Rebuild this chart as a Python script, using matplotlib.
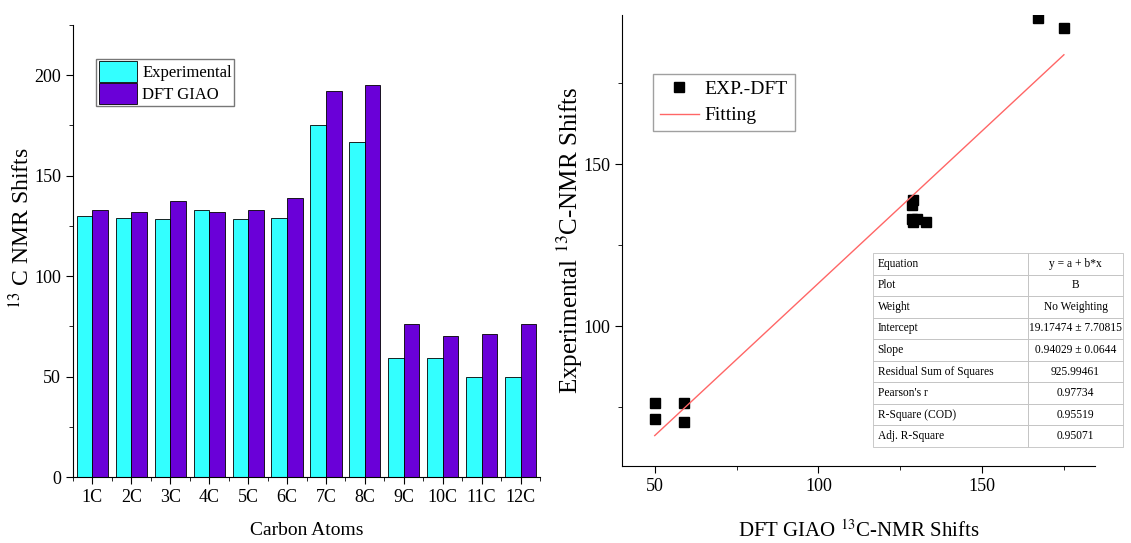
import matplotlib
matplotlib.use("Agg")
import matplotlib.pyplot as plt
from matplotlib.ticker import MultipleLocator
import numpy as np

plt.rcParams['font.family'] = ['Liberation Serif', 'DejaVu Serif']
plt.rcParams['mathtext.fontset'] = 'stix'

atoms = ['1C', '2C', '3C', '4C', '5C', '6C', '7C', '8C', '9C', '10C', '11C', '12C']
exp_shift = [130, 129, 128.5, 133, 128.5, 129, 175, 167, 59, 59, 50, 50]
dft_shift = [133, 132, 137.5, 132, 133, 139, 192, 195, 76, 70, 71, 76]

# scatter pairs as plotted on the right panel
sc_x = [130, 129, 128.5, 133, 128.5, 129, 175, 167, 59, 59, 50, 50]
sc_y = [133, 132, 137.5, 132, 133, 139, 192, 195, 76.2, 70.4, 71.3, 76.2]

# fit parameters (from the fit report table)
intercept = 19.17474
slope = 0.94029
fit_x = [50, 175]

table_rows = [
    ['Equation', 'y = a + b*x'],
    ['Plot', 'B'],
    ['Weight', 'No Weighting'],
    ['Intercept', '19.17474 \u00b1 7.70815'],
    ['Slope', '0.94029 \u00b1 0.0644'],
    ['Residual Sum of Squares', '925.99461'],
    ["Pearson's r", '0.97734'],
    ['R-Square (COD)', '0.95519'],
    ['Adj. R-Square', '0.95071'],
]

fig = plt.figure(figsize=(11.31, 5.43), dpi=100)
W, H = 1131, 543

# ---- left: bar chart
ax1 = fig.add_axes([73 / W, 1 - 477 / H, (540 - 73) / W, (477 - 25) / H])
pos = np.arange(1, len(atoms) + 1)
bw = 0.4
ax1.bar(pos - bw / 2, exp_shift, bw, color='#33ffff', edgecolor='black', linewidth=0.6, label='Experimental')
ax1.bar(pos + bw / 2, dft_shift, bw, color='#6a00d8', edgecolor='black', linewidth=0.6, label='DFT GIAO')
ax1.set_xlim(0.5, 12.5)
ax1.set_ylim(0, 225)
ax1.set_xticks(pos)
ax1.set_xticklabels(atoms)
ax1.xaxis.set_minor_locator(MultipleLocator(1, offset=0.5))
ax1.set_yticks([0, 50, 100, 150, 200])
ax1.yaxis.set_minor_locator(MultipleLocator(25))
for s in ['top', 'right']:
    ax1.spines[s].set_visible(False)
ax1.tick_params(which='both', direction='out', labelsize=13)
ax1.tick_params(which='major', length=5)
ax1.tick_params(which='minor', length=3)
ax1.set_xlabel('Carbon Atoms', fontsize=14)
ax1.xaxis.set_label_coords(0.5, -0.1)
ax1.set_ylabel('$^{13}$ C NMR Shifts', fontsize=17)
ax1.yaxis.set_label_coords(-0.083, 0.55)
ax1.legend(loc='upper left', bbox_to_anchor=(0.05, 0.925), fontsize=12, frameon=True,
           fancybox=False, edgecolor='#555555', handlelength=2.3, handleheight=1.5,
           borderpad=0.15, labelspacing=0.1, handletextpad=0.3, borderaxespad=0)

# ---- right: scatter + fit
ax2 = fig.add_axes([622 / W, 1 - 466 / H, (1095 - 622) / W, (466 - 15) / H])
ax2.plot(sc_x, sc_y, 's', color='black', markersize=6.5, label='EXP.-DFT')
fit_y = [intercept + slope * v for v in fit_x]
ax2.plot(fit_x, fit_y, color='#ff6666', linewidth=1, label='Fitting')
ax2.set_xlim(40, 184.5)
ax2.set_ylim(56.8, 196)
ax2.set_xticks([50, 100, 150])
ax2.set_yticks([100, 150])
ax2.xaxis.set_minor_locator(MultipleLocator(25))
ax2.yaxis.set_minor_locator(MultipleLocator(25))
for s in ['top', 'right']:
    ax2.spines[s].set_visible(False)
ax2.tick_params(which='both', direction='out', labelsize=13)
ax2.tick_params(which='major', length=5)
ax2.tick_params(which='minor', length=3)
ax2.set_xlabel('DFT GIAO $^{13}$C-NMR Shifts', fontsize=15, labelpad=18)
ax2.set_ylabel('Experimental $^{13}$C-NMR Shifts', fontsize=18)
ax2.yaxis.set_label_coords(-0.078, 0.5)
ax2.legend(loc='upper left', bbox_to_anchor=(0.066, 0.87), fontsize=14, frameon=True,
           fancybox=False, edgecolor='#888888', handlelength=2.0,
           borderpad=0.35, labelspacing=0.45, handletextpad=0.3, borderaxespad=0)

tb = ax2.table(cellText=table_rows, colWidths=[0.62, 0.38], cellLoc='left',
               bbox=[(873 - 622) / 473, (466 - 447) / 451, (1123 - 873) / 473, (447 - 253) / 451])
tb.auto_set_font_size(False)
tb.set_fontsize(8.3)
for (r, c), cell in tb.get_celld().items():
    cell.set_edgecolor('#c0c0c0')
    cell.set_linewidth(0.6)
    cell.PAD = 0.03
    if c == 1:
        cell._loc = 'center'
        cell.get_text().set_ha('center')

plt.savefig('out.png', dpi=100)
